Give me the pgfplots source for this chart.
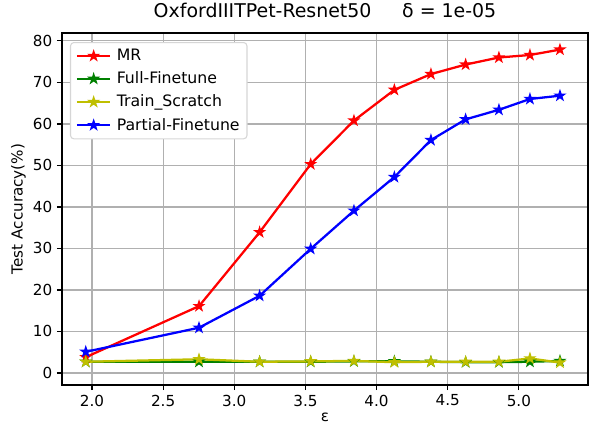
\documentclass[border=0pt]{standalone}
\usepackage{pgfplots}
\pgfplotsset{compat=1.18}
\usepackage{fontspec}
\setmainfont{DejaVu Sans}
\definecolor{mplgreen}{rgb}{0,0.5,0}
\definecolor{mplyellow}{rgb}{0.75,0.75,0}
\definecolor{gridgray}{HTML}{B0B0B0}
\definecolor{legendedge}{HTML}{D6D6D6}

% filled five-pointed star (inner radius 0.382 of the outer one)
\pgfdeclareplotmark{fstar}{%
  \pgfpathmoveto{\pgfpointpolar{90}{\pgfplotmarksize}}%
  \pgfpathlineto{\pgfpointpolar{126}{0.382\pgfplotmarksize}}%
  \pgfpathlineto{\pgfpointpolar{162}{\pgfplotmarksize}}%
  \pgfpathlineto{\pgfpointpolar{198}{0.382\pgfplotmarksize}}%
  \pgfpathlineto{\pgfpointpolar{234}{\pgfplotmarksize}}%
  \pgfpathlineto{\pgfpointpolar{270}{0.382\pgfplotmarksize}}%
  \pgfpathlineto{\pgfpointpolar{306}{\pgfplotmarksize}}%
  \pgfpathlineto{\pgfpointpolar{342}{0.382\pgfplotmarksize}}%
  \pgfpathlineto{\pgfpointpolar{18}{\pgfplotmarksize}}%
  \pgfpathlineto{\pgfpointpolar{54}{0.382\pgfplotmarksize}}%
  \pgfpathclose
  \pgfusepathqfillstroke}

\newcommand{\lblfont}{\fontsize{11.4}{13.5}\selectfont}
\begin{document}
\begin{tikzpicture}
\begin{axis}[
  at={(0,0)}, anchor=south west,
  scale only axis,
  width=394.5pt, height=264pt,
  xmin=1.789, xmax=5.486,
  ymin=-2.9, ymax=81.9,
  xtick={2.0,2.5,3.0,3.5,4.0,4.5,5.0},
  ytick={0,10,20,30,40,50,60,70,80},
  xticklabel style={/pgf/number format/.cd,fixed,fixed zerofill,precision=1},
  /pgf/number format/assume math mode=true,
  tick align=outside,
  tick pos=left,
  major tick length=3.8pt,
  tick style={black, line width=0.9pt},
  grid=major,
  grid style={gridgray, line width=0.9pt},
  axis line style={black, line width=0.9pt},
  ticklabel style={font=\lblfont},
  xlabel={ε},
  ylabel={Test Accuracy(\%)},
  xlabel style={font=\lblfont, at={(axis description cs:0.5,-0.0909)}, anchor=center},
  ylabel style={font=\lblfont, at={(axis description cs:-0.083,0.5)}, anchor=center},
  title={OxfordIIITPet-Resnet50\hspace{23pt}δ = 1e-05},
  title style={font=\fontsize{14.2}{16}\selectfont, at={(axis description cs:0.5,1.041)}, anchor=center},
  legend cell align=left,
  legend style={draw=legendedge, rounded corners=2.5pt, line width=0.8pt,
    at={(axis description cs:0.0152,0.9744)}, anchor=north west,
    inner xsep=4pt, inner ysep=3.5pt, row sep=3.9pt, column sep=2.5pt,
    nodes={font=\fontsize{11.8}{14}\selectfont, inner sep=1.5pt}},
  legend image code/.code={
    \draw[#1, mark repeat=2, mark phase=2] plot coordinates {(0pt,0pt) (12.5pt,0pt) (25pt,0pt)};},
  every axis plot/.append style={line width=1.7pt, mark=fstar, mark size=3.4pt,
    mark options={solid, line width=1.1pt}},
]
\addplot[red] coordinates {
 (1.956,3.8) (2.752,16.1) (3.178,33.9) (3.537,50.3) (3.841,60.8) (4.125,68.2)
 (4.382,72.0) (4.626,74.3) (4.860,76.0) (5.078,76.6) (5.289,77.9)};
\addlegendentry{MR}
\addplot[mplgreen] coordinates {
 (1.956,2.7) (2.752,2.7) (3.178,2.7) (3.537,2.7) (3.841,2.8) (4.125,2.8)
 (4.382,2.7) (4.626,2.6) (4.860,2.6) (5.078,2.7) (5.289,2.9)};
\addlegendentry{Full-Finetune}
\addplot[mplyellow] coordinates {
 (1.956,2.7) (2.752,3.3) (3.178,2.7) (3.537,2.8) (3.841,2.9) (4.125,2.6)
 (4.382,2.7) (4.626,2.7) (4.860,2.7) (5.078,3.5) (5.289,2.5)};
\addlegendentry{Train\_Scratch}
\addplot[blue] coordinates {
 (1.956,5.1) (2.752,10.9) (3.178,18.6) (3.537,29.9) (3.841,39.1) (4.125,47.2)
 (4.382,56.1) (4.626,61.1) (4.860,63.4) (5.078,66.0) (5.289,66.8)};
\addlegendentry{Partial-Finetune}
\end{axis}
\pgfresetboundingbox
\useasboundingbox (-46.5pt,-30.75pt) rectangle (397.5pt,288.75pt);
\end{tikzpicture}
\end{document}
